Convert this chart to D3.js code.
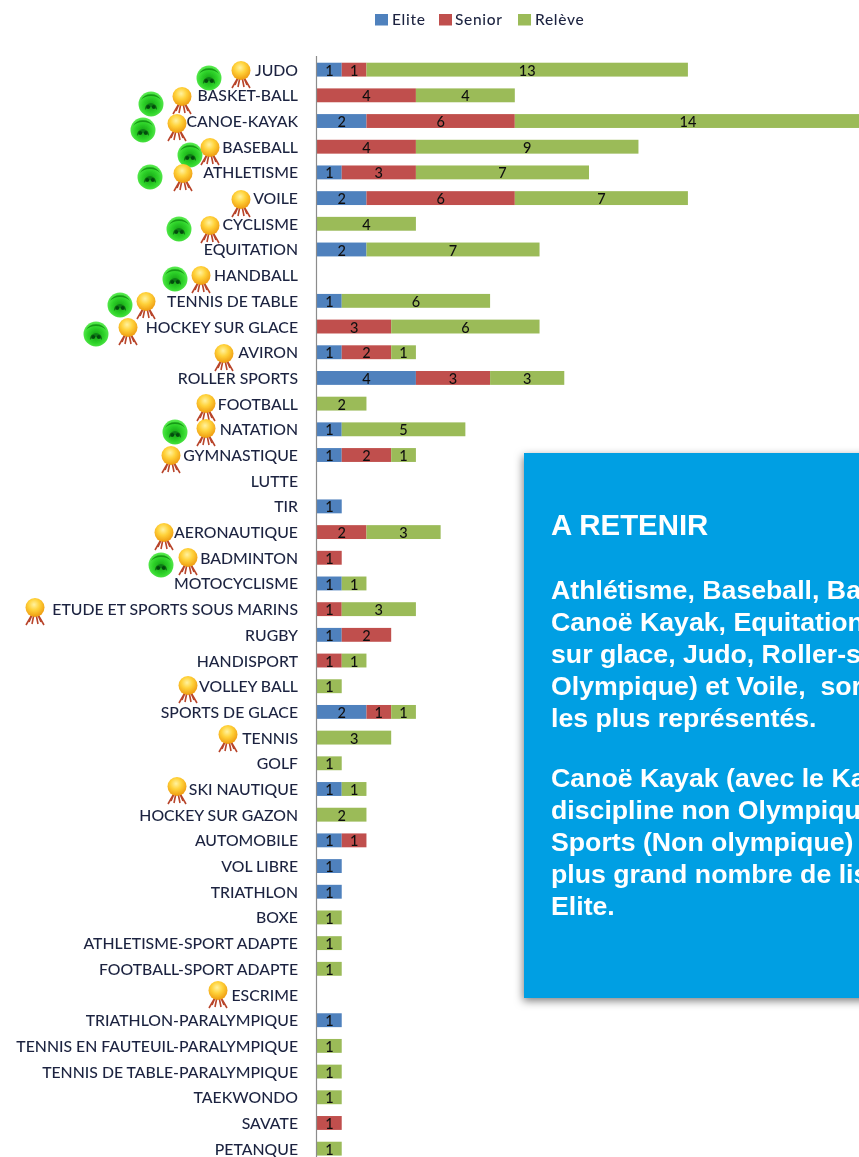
<!DOCTYPE html>
<html lang="fr"><head><meta charset="utf-8">
<style>html,body{margin:0;padding:0;background:#fff;overflow:hidden}svg{display:block}</style>
<script src="https://cdnjs.cloudflare.com/ajax/libs/d3/7.8.5/d3.min.js"></script>
</head><body><svg id="c" width="859" height="1157"></svg>
<script>
const categories=["JUDO","BASKET-BALL","CANOE-KAYAK","BASEBALL","ATHLETISME","VOILE","CYCLISME","EQUITATION","HANDBALL","TENNIS DE TABLE","HOCKEY SUR GLACE","AVIRON","ROLLER SPORTS","FOOTBALL","NATATION","GYMNASTIQUE","LUTTE","TIR","AERONAUTIQUE","BADMINTON","MOTOCYCLISME","ETUDE ET SPORTS SOUS MARINS","RUGBY","HANDISPORT","VOLLEY BALL","SPORTS DE GLACE","TENNIS","GOLF","SKI NAUTIQUE","HOCKEY SUR GAZON","AUTOMOBILE","VOL LIBRE","TRIATHLON","BOXE","ATHLETISME-SPORT ADAPTE","FOOTBALL-SPORT ADAPTE","ESCRIME","TRIATHLON-PARALYMPIQUE","TENNIS EN FAUTEUIL-PARALYMPIQUE","TENNIS DE TABLE-PARALYMPIQUE","TAEKWONDO","SAVATE","PETANQUE"];
const elite =[1,0,2,0,1,2,0,2,0,1,0,1,4,0,1,1,0,1,0,0,1,0,1,0,0,2,0,0,1,0,1,1,1,0,0,0,0,1,0,0,0,0,0];
const senior=[1,4,6,4,3,6,0,0,0,0,3,2,3,0,0,2,0,0,2,1,0,1,2,1,0,1,0,0,0,0,1,0,0,0,0,0,0,0,0,0,0,1,0];
const releve=[13,4,14,9,7,7,4,7,0,6,6,1,3,2,5,1,0,0,3,0,1,3,0,1,1,1,3,1,1,2,0,0,0,1,1,1,0,0,1,1,1,0,1];
const seriesNames=["Elite","Senior","Relève"];
const seriesColors=["#4f81bd","#c0504d","#9bbb59"];
const boxTitle="A RETENIR";
const boxPara1=["Athlétisme, Baseball, Ba","Canoë Kayak, Equitation","sur glace, Judo, Roller-s","Olympique) et Voile,  sor","les plus représentés."];
const boxPara2=["Canoë Kayak (avec le Ka","discipline non Olympiqu","Sports (Non olympique)","plus grand nombre de lis","Elite."];
// Decorative pictograms beside the labels: [category, medal cx, medal cy, blob cx, blob cy]
const pictos=[["JUDO",241,74,209,78],["BASKET-BALL",182,100,151,104],["CANOE-KAYAK",177,127,143,130],["BASEBALL",210,151,190,155],["ATHLETISME",183,177,150,177],["VOILE",241,203],["CYCLISME",210,229,179,229],["HANDBALL",201,279,175,279],["TENNIS DE TABLE",146,305,120,305],["HOCKEY SUR GLACE",128,331,96,334],["AVIRON",224,357],["FOOTBALL",206,407],["NATATION",206,432,175,432],["GYMNASTIQUE",171,459],["AERONAUTIQUE",164,536],["BADMINTON",188,561,161,565],["ETUDE ET SPORTS SOUS MARINS",35,611],["VOLLEY BALL",188,689],["TENNIS",228,738],["SKI NAUTIQUE",177,790],["ESCRIME",218,994]];

const svg=d3.select("#c");
const defs=svg.append("defs");
const soft=defs.append("filter").attr("id","soft").attr("x","-5%").attr("y","-5%").attr("width","110%").attr("height","110%");
soft.append("feGaussianBlur").attr("stdDeviation",0.5);
const shadow=defs.append("filter").attr("id","shadow").attr("x","-10%").attr("y","-10%").attr("width","120%").attr("height","120%");
shadow.append("feDropShadow").attr("dx",-1).attr("dy",3).attr("stdDeviation",4).attr("flood-color","#000").attr("flood-opacity",0.5);
const gold=defs.append("radialGradient").attr("id","gold").attr("cx","45%").attr("cy","35%").attr("r","65%");
[[0,"#fff2a0"],[0.45,"#ffd23a"],[1,"#ee9a10"]].forEach(s=>gold.append("stop").attr("offset",s[0]).attr("stop-color",s[1]));
const green=defs.append("radialGradient").attr("id","green").attr("cx","50%").attr("cy","55%").attr("r","55%");
[[0,"#13a013"],[0.6,"#2fd42a"],[1,"#5cec52"]].forEach(s=>green.append("stop").attr("offset",s[0]).attr("stop-color",s[1]));

const x=d3.scaleLinear().domain([0,22]).range([317,861]);
const y=d3.scaleBand().domain(categories).range([56.8,1161.5]).paddingInner(0.46).paddingOuter(0.23);
const rows=categories.map((c,i)=>({cat:c,Elite:elite[i],Senior:senior[i],"Relève":releve[i]}));
const stack=d3.stack().keys(seriesNames)(rows);
const labelFont="Lato, 'Noto Sans', sans-serif";

const chart=svg.append("g").attr("filter","url(#soft)");
const layers=chart.selectAll("g.s").data(stack).join("g").attr("class","s").attr("fill",(d,i)=>seriesColors[i]);
layers.selectAll("rect").data(d=>d.filter(p=>p[1]>p[0])).join("rect")
 .attr("x",d=>x(d[0])).attr("width",d=>x(d[1])-x(d[0]))
 .attr("y",d=>y(d.data.cat)).attr("height",y.bandwidth());
layers.selectAll("text").data(d=>d.filter(p=>p[1]>p[0])).join("text")
 .attr("x",d=>x((d[0]+d[1])/2)).attr("y",d=>y(d.data.cat)+y.bandwidth()/2+1)
 .attr("dy","0.35em").attr("text-anchor","middle").attr("fill","#111")
 .attr("font-family",labelFont).attr("font-size",14.5).attr("font-weight",500).text(d=>d[1]-d[0]);

const axis=chart.append("g").attr("transform","translate(317,0)").call(d3.axisLeft(y).tickSize(0).tickPadding(19));
axis.select(".domain").remove();
chart.append("line").attr("x1",316.5).attr("x2",316.5).attr("y1",56).attr("y2",1157).attr("stroke","#8c8c8c").attr("stroke-width",1.2);
axis.selectAll("text").attr("font-family",labelFont).attr("font-size",15.8).attr("font-weight",500).attr("fill","#1c2440").attr("dy","0.38em");

// legend
const leg=chart.append("g");
const legX=[375,439,518];
const legTextX=[392,455,535];
seriesNames.forEach((n,i)=>{
 leg.append("rect").attr("x",legX[i]).attr("y",14).attr("width",13).attr("height",11.5).attr("fill",seriesColors[i]);
 leg.append("text").attr("x",legTextX[i]).attr("y",25).attr("font-family",labelFont).attr("font-size",15.5).attr("font-weight",500).attr("letter-spacing",0.7).attr("fill","#1c2440").text(n);
});

// pictograms
const pg=chart.append("g");
pictos.forEach(p=>{
 if(p[3]!==undefined){
  const b=pg.append("g").attr("transform",`translate(${p[3]},${p[4]})`);
  b.append("circle").attr("r",12.5).attr("fill","url(#green)");
  b.append("path").attr("d","M-10,-4 A11,10 0 0 1 10,-4 A12,9 0 0 0 -10,-4").attr("fill","#169a16");
  b.append("path").attr("d","M-6,6 C-7,-3 7,-3 6,6 C4,2 -4,2 -6,6 Z").attr("fill","#0f7d14");
  b.append("circle").attr("cx",-2.8).attr("cy",3).attr("r",2).attr("fill","#064d10");
  b.append("circle").attr("cx",2.8).attr("cy",3).attr("r",2).attr("fill","#064d10");
 }
 const m=pg.append("g").attr("transform",`translate(${p[1]},${p[2]})`);
 m.append("path").attr("d","M-2,2 L-9,14 M-1,3 L-3,13 M1,3 L3,13 M2,2 L9,14 M-3,4 L-6,11 M3,4 L6,11").attr("stroke","#b8442a").attr("stroke-width",1.6).attr("fill","none");
 m.append("circle").attr("cy",-3.5).attr("r",9.5).attr("fill","url(#gold)");
});

// text box
const box=svg.append("g");
box.append("rect").attr("x",524).attr("y",453).attr("width",360).attr("height",545).attr("fill","#009fe3").attr("filter","url(#shadow)");
const bt=box.append("g").attr("font-family","'Liberation Sans', Arial, sans-serif").attr("font-weight",700).attr("fill","#fff");
bt.append("text").attr("x",551).attr("y",535).attr("font-size",29.4).text(boxTitle);
const lineY=d3.scaleLinear().domain([0,1]).range([599,631]);
bt.selectAll("text.p1").data(boxPara1).join("text").attr("class","p1").attr("x",551).attr("y",(d,i)=>lineY(i)).attr("font-size",26.7).style("white-space","pre").text(d=>d);
bt.selectAll("text.p2").data(boxPara2).join("text").attr("class","p2").attr("x",551).attr("y",(d,i)=>lineY(i+5.88)).attr("font-size",26.7).text(d=>d);
</script></body></html>
